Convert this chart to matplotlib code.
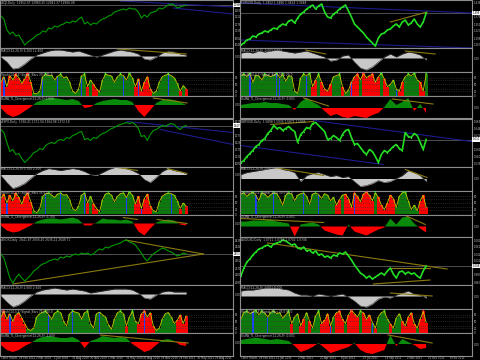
import matplotlib
matplotlib.use("Agg")
import numpy as np
import matplotlib.pyplot as plt
from matplotlib.ticker import FuncFormatter

# ---- price panes, read in pixel heights of the pane (0 = bottom, 48 = top), one value every 3 px ----
dji_price = [32, 29, 18, 14, 16, 12, 13, 8, 3, 6, 8, 10, 13, 14, 17, 16, 20, 19, 22, 21,
             23, 24, 26, 25, 27, 26, 29, 31, 24, 26, 23, 25, 24, 27, 29, 30, 32, 33, 36, 37,
             38, 39, 38, 40, 39, 39, 36, 30, 33, 31, 35, 36, 37, 40, 39, 41, 43, 44, 43, 40,
             41, 42, 43]
eur_price = [3, 5, 8, 9, 12, 11, 14, 15, 17, 16, 18, 20, 19, 22, 24, 23, 27, 28, 25, 30,
             34, 36, 39, 41, 43, 39, 42, 44, 36, 31, 30, 34, 36, 39, 41, 43, 37, 31, 24, 21,
             18, 15, 11, 8, 5, 2, 10, 14, 15, 18, 19, 22, 24, 21, 26, 28, 23, 25, 29, 24,
             21, 26, 35]
spx_price = [37, 34, 24, 15, 17, 12, 13, 8, 4, 7, 10, 14, 15, 18, 17, 21, 23, 24, 23, 26,
             27, 26, 29, 28, 31, 32, 34, 35, 27, 28, 26, 29, 28, 31, 33, 34, 36, 38, 39, 41,
             42, 43, 44, 43, 44, 42, 38, 30, 31, 26, 32, 36, 37, 39, 41, 40, 42, 43, 42, 39,
             37, 40, 41]
gbp_price = [4, 6, 10, 13, 16, 20, 22, 26, 28, 33, 36, 41, 38, 39, 36, 38, 40, 37, 35, 24,
             32, 35, 39, 38, 43, 44, 41, 38, 35, 27, 28, 31, 29, 26, 32, 36, 37, 29, 22, 23,
             19, 15, 12, 17, 15, 10, 4, 12, 16, 14, 17, 20, 22, 18, 16, 34, 30, 29, 33, 31,
             24, 17, 27]
ndx_price = [31, 27, 17, 7, 2, 7, 11, 7, 4, 7, 10, 14, 16, 19, 21, 22, 24, 25, 26, 25,
             28, 27, 29, 28, 30, 31, 30, 32, 31, 32, 30, 31, 34, 36, 35, 38, 37, 39, 40, 41,
             42, 44, 45, 43, 42, 40, 36, 32, 27, 24, 28, 31, 33, 35, 37, 36, 34, 33, 31, 29,
             30, 32, 31]
aud_price = [9, 17, 23, 26, 30, 33, 36, 37, 39, 40, 38, 41, 42, 43, 45, 44, 42, 40, 41, 37,
             36, 38, 34, 35, 32, 34, 30, 31, 28, 29, 27, 30, 29, 32, 31, 33, 29, 25, 20, 16,
             12, 10, 7, 9, 6, 8, 10, 12, 10, 14, 17, 11, 7, 13, 14, 11, 13, 11, 12, 9,
             7, 14, 19]

# ---- grey oscillator (px from zero line, one value every 6 px) ----
dji_osc = [-1, -6, -13, -12, -8, -3, 1, 3, 5, 6, 6, 5, 4, 5, 3, 1, -1, 1, 3, 5, 6, 5, 4, 2, -3, -4, -1, 3, 5, 4, 2, 1]
eur_osc = [5, 6, 5, 7, 6, 7, 8, 7, 6, 5, 6, 7, 5, 3, 1, -3, -2, 2, 3, -4, -10, -12, -9, -4, 1, 4, 1, 4, 6, 5, 3, -2]
spx_osc = [-1, -8, -14, -12, -9, -4, 1, 4, 6, 5, 4, 5, 6, 5, 3, 0, -1, 2, 5, 7, 7, 6, 4, 1, -5, -8, -3, 3, 6, 4, 3, 1]
gbp_osc = [4, 6, 7, 8, 9, 10, 11, 9, 8, 6, -3, 3, 5, 6, 4, 2, 3, 1, 2, -3, -8, -7, -5, -2, -4, -3, 0, 3, 8, 6, 3, -3]
ndx_osc = [-2, -8, -13, -11, -7, -2, 2, 4, 5, 6, 5, 4, 5, 4, 3, 1, 2, 3, 4, 5, 5, 5, 4, 1, -4, -5, -1, 2, 3, 2, 2, 2]
aud_osc = [5, 6, 6, 7, 8, 8, 8, 7, 6, 3, 1, 1, 0, 2, 1, 0, 1, 2, -1, -5, -10, -11, -8, -3, -1, -2, 1, 3, 5, 2, 1, -2]

# ---- stochastic-style pane (0..100, one value every 3 px) and its fill colour ----
dji_sto = [60, 85, 40, 90, 70, 95, 80, 55, 75, 100, 60, 10, 8, 20, 85, 95, 90, 92, 70, 88,
           95, 80, 85, 60, 20, 10, 30, 90, 95, 40, 70, 50, 30, 15, 70, 95, 92, 88, 60, 85,
           95, 90, 70, 100, 80, 40, 75, 20, 60, 85, 30, 10, 20, 60, 85, 92, 95, 90, 80, 55,
           20, 45, 30]
dji_col = "r" * 11 + "g" * 16 + "ggrgrrg" + "g" * 11 + "r" * 6 + "g" * 9 + "rgr"
eur_sto = [90, 95, 85, 100, 60, 92, 88, 70, 95, 90, 85, 92, 100, 80, 95, 65, 90, 85, 20, 10,
           80, 95, 90, 100, 40, 70, 95, 60, 30, 20, 50, 85, 90, 95, 40, 10, 25, 60, 85, 95,
           70, 100, 80, 90, 95, 60, 85, 100, 75, 40, 50, 70, 30, 20, 60, 85, 95, 90, 100, 70,
           60, 20, 95]
eur_col = "g" * 24 + "rrgrr" + "rrgggr" + "gg" + "rrrgrrrrrrgrr" + "gggrr" + "ggggg" + "rrg"
spx_sto = [70, 90, 50, 85, 60, 95, 75, 45, 80, 95, 55, 15, 5, 25, 80, 92, 95, 85, 75, 90,
           95, 85, 88, 65, 25, 15, 35, 85, 95, 50, 80, 45, 25, 10, 65, 90, 95, 85, 55, 80,
           92, 95, 75, 100, 85, 45, 80, 25, 70, 90, 35, 15, 10, 55, 80, 90, 95, 92, 85, 60,
           25, 50, 35]
spx_col = "r" * 11 + "g" * 16 + "ggrgrrg" + "g" * 11 + "r" * 6 + "g" * 9 + "rgr"
gbp_sto = [90, 95, 80, 92, 100, 85, 60, 95, 90, 75, 88, 95, 92, 70, 40, 85, 95, 90, 60, 85,
           92, 95, 80, 45, 90, 95, 88, 70, 92, 85, 60, 75, 40, 65, 85, 90, 70, 30, 95, 80,
           55, 90, 100, 85, 60, 95, 75, 40, 20, 50, 85, 70, 30, 80, 95, 100, 60, 20, 40, 15,
           60, 85, 30]
gbp_col = "g" * 32 + "rrgrrrrrrrrrrgrrrrrr" + "ggggg" + "gggrrr"
ndx_sto = [70, 95, 60, 85, 50, 80, 90, 65, 40, 15, 10, 20, 70, 85, 92, 95, 80, 60, 88, 95,
           90, 50, 30, 85, 95, 92, 88, 60, 90, 95, 40, 20, 85, 92, 80, 70, 35, 15, 60, 90,
           95, 85, 30, 70, 95, 50, 40, 85, 95, 70, 90, 30, 10, 20, 60, 85, 90, 70, 40, 55,
           80, 40, 75]
ndx_col = "r" * 9 + "ggg" + "g" * 26 + "ggggrggg" + "r" * 6 + "gg" + "ggggg" + "rrrr"
aud_sto = [60, 90, 95, 85, 92, 100, 80, 95, 88, 70, 92, 95, 85, 90, 65, 80, 95, 40, 70, 85,
           30, 60, 90, 50, 20, 75, 95, 40, 55, 85, 30, 70, 90, 95, 60, 40, 80, 100, 85, 70,
           95, 90, 60, 80, 45, 20, 70, 90, 95, 60, 40, 20, 65, 85, 50, 30, 70, 90, 40, 20,
           60, 95, 45]
aud_col = "g" * 17 + "rggrrgrgggr" + "rrrgrrrgrrrrgrrrgr" + "ggggrgg" + "grrrrrgrrr"

# blue stripes in the stochastic panes (sample index)
dji_blue = [1, 14, 19, 27, 41, 46, 56]
eur_blue = [3, 12, 13, 22, 37, 52]
spx_blue = [2, 15, 20, 28, 42, 47, 57]
gbp_blue = [5, 11, 21, 26, 38]
ndx_blue = [3, 16, 24, 33, 48]
aud_blue = [4, 9, 30, 44]

# ---- green/red histogram (px from zero line, one value every 6 px) ----
dji_hist = [-3, -9, -12, -10, -6, -2, 3, 5, 7, 7, 6, 5, 6, 4, -3, -2, 2, 4, 5, 6, 5, 5, 3, -6, -12, -5, 2, 5, 6, 5, 3, 0]
eur_hist = [3, 4, 5, 5, 6, 5, 5, 4, 3, -2, 6, 10, 6, 3, -3, -8, -6, -9, -10, -8, -9, -10, -7, -5, 1, 9, 3, 6, 10, -3, 4, -5]
spx_hist = [-2, -7, -9, -8, -5, -2, 2, 4, 5, 5, 4, 5, 6, 4, -2, -2, 1, 5, 4, 4, 3, 4, 2, -8, -12, -5, 1, 3, 4, 3, -1, -2]
gbp_hist = [5, 5, 6, 6, 6, 7, 5, 4, 3, -10, 2, 3, 4, 2, -4, -6, -8, -9, 2, -5, -7, -9, -6, -3, -1, 8, 2, 9, 10, 3, -2, -6]
ndx_hist = [-3, -8, -10, -8, -4, -1, 3, 5, 6, 5, 4, 4, 5, 2, -6, 1, 3, 6, 5, 4, 5, 4, -2, -6, -10, -8, -3, 2, 3, 1, -3, -4]
aud_hist = [4, 5, 6, 6, 5, 4, 5, 4, 3, -2, -8, -6, -3, 1, -4, -9, -7, -5, -3, 1, -6, -9, -10, -8, -6, 9, -2, 5, 2, -1, -5, -4]

# ---- trend lines (x in sample index, y in pane units) ----
dji_blue_lines = [(40, 47, 77.7, 41), (57.7, 40, 77.7, 34)]
eur_blue_lines = [(0, 45, 77.3, 35), (0, 8, 77.3, 0)]
spx_blue_lines = [(42.3, 45, 77.7, 34), (53.3, 37, 77.7, 22)]
gbp_blue_lines = [(24.3, 46, 77.3, 25), (0, 21, 47.7, 2)]
ndx_blue_lines = []
aud_blue_lines = []
eur_olive_price = [(50, 26, 62.3, 36)]
gbp_olive_price = [(10, 42, 24.3, 45)]
ndx_olive_price = [(41.7, 45, 67.7, 31), (4, 1, 67.7, 31)]
aud_olive_price = [(9, 42, 69, 16), (44.3, 1, 63.3, 5), (50, 17, 63.3, 17)]
dji_olive_osc = [(39, 7, 62, 2)]
eur_olive_osc = [(21.7, 8, 28.3, 4), (55, 7, 65, 4)]
spx_olive_osc = [(39, 7, 45.7, 4), (55.7, 6, 62.3, 1)]
gbp_olive_osc = [(11, 11, 27.7, 3), (55, 9, 62.3, 1)]
aud_olive_osc = [(50, 3, 64, 0)]
dji_olive_hist = [(51, 7, 62.3, 2)]
eur_olive_hist = [(21, 10, 29.3, 2), (50.7, 9, 64.3, 4)]
spx_olive_hist = [(41, 6, 45.7, 4), (52.3, 4, 62.3, 0)]
gbp_olive_hist = [(0, 8, 27.7, 4), (55, 11, 61.7, 2)]
ndx_olive_hist = [(33.3, 7, 62.7, -1)]
aud_olive_hist = [(49.3, 9, 64, 1)]

titles = ["#DJI,Daily  12952.07 12983.25 12941.37 12966.08",
          "EURUSD,Daily  1.3452 1.3486 1.3424 1.3448",
          "#SPX,Daily  1366.41 1371.94 1364.98 1372.18",
          "GBPUSD,Daily  1.5898 1.5934 1.5871 1.5906",
          "#NDX,Daily  2641.87 2656.40 2636.22 2649.71",
          "AUDUSD,Daily  1.0721 1.0768 1.0702 1.0746"]
price_base = [10300, 1.255, 1060, 1.530, 2050, 0.955]
price_step = [62, 0.0040, 7.0, 0.0030, 13, 0.0028]
dates_left = ["2 Mar 2009", "1 Jun 2009", "31 Aug 2009", "30 Nov 2009", "1 Mar 2010", "31 May 2010",
              "30 Aug 2010", "29 Nov 2010", "28 Feb 2011", "30 May 2011", "29 Aug 2011"]
dates_right = ["12 Jan 2011", "2 Mar 2011", "20 Apr 2011", "8 Jun 2011", "27 Jul 2011", "14 Sep 2011",
               "2 Nov 2011", "21 Dec 2011", "8 Feb 2012"]

charts = [
    (dji_price, dji_osc, dji_sto, dji_col, dji_blue, dji_hist, dji_blue_lines, [], dji_olive_osc, dji_olive_hist),
    (eur_price, eur_osc, eur_sto, eur_col, eur_blue, eur_hist, eur_blue_lines, eur_olive_price, eur_olive_osc, eur_olive_hist),
    (spx_price, spx_osc, spx_sto, spx_col, spx_blue, spx_hist, spx_blue_lines, [], spx_olive_osc, spx_olive_hist),
    (gbp_price, gbp_osc, gbp_sto, gbp_col, gbp_blue, gbp_hist, gbp_blue_lines, gbp_olive_price, gbp_olive_osc, gbp_olive_hist),
    (ndx_price, ndx_osc, ndx_sto, ndx_col, ndx_blue, ndx_hist, ndx_blue_lines, ndx_olive_price, [], ndx_olive_hist),
    (aud_price, aud_osc, aud_sto, aud_col, aud_blue, aud_hist, aud_blue_lines, aud_olive_price, aud_olive_osc, aud_olive_hist),
]
osc_zero = [8, 10, 8, 12, 9, 11]     # px from pane top to zero line
hist_zero = [9, 12, 9, 12, 9, 11]

W, H = 480, 360
FRAME = "#8c8c8c"
TXT = "#bfbfbf"
FILL_G = "#0b7a0b"
FILL_R = "#ff0000"
YEL = "#c8c800"
BLUE = "#1c1c8c"
OLIVE = "#8a7a10"
FS = 1.9

fig = plt.figure(figsize=(4.8, 3.6), dpi=100, facecolor="black")


def pane(x, y, w, h):
    ax = fig.add_axes([x / W, 1 - (y + h) / H, w / W, h / H], facecolor="black")
    for s in ax.spines.values():
        s.set_color(FRAME)
        s.set_linewidth(0.8)
    ax.tick_params(axis="x", bottom=False, labelbottom=False)
    ax.yaxis.tick_right()
    ax.tick_params(axis="y", colors=TXT, labelsize=FS, length=0.8, width=0.3, pad=0.4)
    return ax


def segs(ax, lines, color, lw=0.7):
    for x0, y0, x1, y1 in lines:
        ax.plot([x0, x1], [y0, y1], color=color, lw=lw)


def title(ax, s):
    ax.text(0.006, 0.97, s, transform=ax.transAxes, fontsize=2.1, color=TXT, va="top")


cols = [(0, 233), (240, 232)]
tops = [0, 118.5, 237]
heights = [48, 24, 24, 22.5]

for k, (price, osc, sto, col, blue, hist, blines, oprice, oosc, ohist) in enumerate(charts):
    cx, cw = cols[k % 2]
    top = tops[k // 2]
    xmax = cw / 3
    right = k % 2 == 1
    b, st = price_base[k], price_step[k]
    fmt = "{:.3f}" if st < 0.1 else "{:.0f}"

    # price pane
    ax = pane(cx, top, cw, heights[0])
    xi = np.arange(len(price))
    ax.axhline(price[-1], color="#6e6e6e", lw=0.5)
    segs(ax, blines, BLUE, 0.8)
    segs(ax, oprice, OLIVE, 0.8)
    if right:
        ax.plot(xi, price, color="#22dd22", lw=1.2, marker="o", ms=0.9, mew=0)
    else:
        ax.plot(xi, price, color="#009a00", lw=0.8)
    ax.set_xlim(-0.3, xmax)
    ax.set_ylim(0, 48)
    ticks = [t for t in np.arange(3, 48, 7) if abs(t - price[-1]) > 3]
    ax.set_yticks(ticks)
    ax.yaxis.set_major_formatter(FuncFormatter(lambda v, p, b=b, st=st, fmt=fmt: fmt.format(b + v * st)))
    ax.text(1.003, price[-1] / 48, fmt.format(b + price[-1] * st), transform=ax.transAxes,
            fontsize=FS, color="black", va="center", clip_on=False,
            bbox=dict(fc="white", ec="none", pad=0.2))
    title(ax, titles[k])

    # MACD-style grey pane
    z = osc_zero[k]
    ax = pane(cx, top + heights[0], cw, heights[1])
    xo = np.arange(len(osc)) * 2
    ax.fill_between(xo, 0, osc, color="#c8c8c8", lw=0)
    ax.plot(xo, osc, color="#3a3a3a", lw=0.4)
    segs(ax, oosc, OLIVE, 0.8)
    ax.set_xlim(-0.3, xmax)
    ax.set_ylim(z - heights[1], z)
    ax.set_yticks([0])
    ax.yaxis.set_major_formatter(FuncFormatter(lambda v, p: "0.00"))
    title(ax, "MACD(12,26,9) %.3f %.3f" % (osc[-1] * st / 10, osc[-2] * st / 10))

    # stochastic pane
    ax = pane(cx, top + heights[0] + heights[1], cw, heights[2])
    xs = np.arange(len(sto))
    for lv in (20, 30, 50, 70, 80):
        ax.axhline(lv, color="#3c3c3c", lw=0.4, ls=(0, (2, 2)))
    colors = [FILL_G if c == "g" else FILL_R for c in col]
    ax.bar(xs, sto, width=1.02, color=colors, lw=0)
    ax.bar(blue, [sto[i] for i in blue], width=0.45, color="#2040ff", lw=0)
    ax.plot(xs, sto, color=YEL, lw=0.6)
    hi = [i for i in xs if sto[i] >= 95]
    ax.scatter(hi, [100] * len(hi), s=1.2, c=["#ff3060" if col[i] == "r" else "#30ff30" for i in hi], lw=0, zorder=5)
    ax.set_xlim(-0.3, xmax)
    ax.set_ylim(-2, 106)
    ax.set_yticks([0, 20, 50, 80])
    title(ax, "Stoch(14,3,3) Signal_Bars %.1f %.1f" % (sto[-1], sto[-2]))

    # OsMA-style green/red histogram
    z = hist_zero[k]
    ax = pane(cx, top + sum(heights[:3]), cw, heights[3])
    xh = np.arange(len(hist)) * 2
    hv = np.array(hist, dtype=float)
    ax.fill_between(xh, 0, hv, where=hv >= 0, interpolate=True, color="#0a8a0a", lw=0)
    ax.fill_between(xh, 0, hv, where=hv <= 0, interpolate=True, color=FILL_R, lw=0)
    segs(ax, ohist, OLIVE, 0.8)
    ax.set_xlim(-0.3, xmax)
    ax.set_ylim(z - heights[3], z)
    ax.set_yticks([0])
    ax.yaxis.set_major_formatter(FuncFormatter(lambda v, p: "0.00"))
    title(ax, "OsMA_TL_Divergence(12,26,9) %.3f" % (hist[-1] * st / 20))

# date strip at the bottom of each column
for (cx, cw), dates in zip(cols, [dates_left, dates_right]):
    ax = fig.add_axes([cx / W, 0, cw / W, 4.5 / H], facecolor="black")
    ax.set_axis_off()
    ax.set_xlim(0, cw)
    ax.set_ylim(0, 1)
    ax.text(1, 0.5, "Close Trader, 28 Feb 2012", fontsize=FS, color=TXT, va="center")
    step = (cw - 36) / len(dates)
    for i, d in enumerate(dates):
        ax.text(36 + i * step, 0.5, d, fontsize=FS, color=TXT, va="center")

fig.savefig("out.png", dpi=100, facecolor="black")
